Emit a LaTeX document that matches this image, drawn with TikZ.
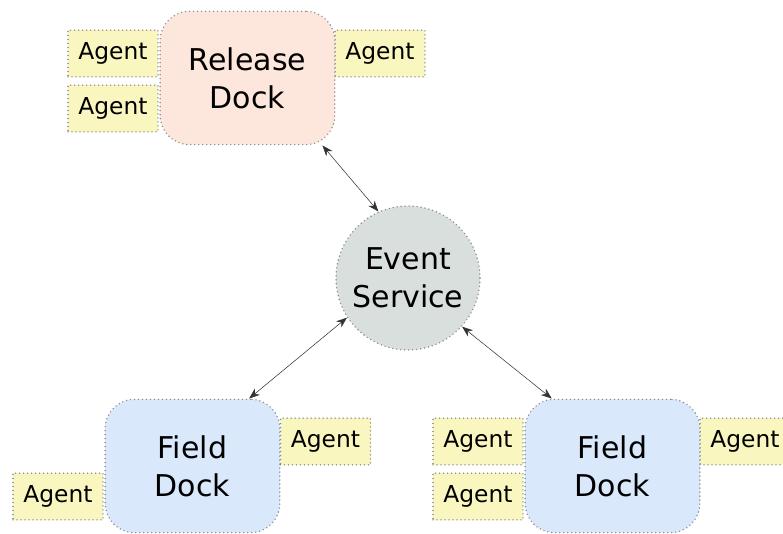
\documentclass[tikz,border=0pt]{standalone}
\usepackage{fontspec}
\setmainfont{DejaVu Sans}
\usepackage{tikz}
\usetikzlibrary{arrows.meta}

\definecolor{releasefill}{RGB}{253,230,219}
\definecolor{eventfill}{RGB}{216,223,221}
\definecolor{fieldfill}{RGB}{218,232,252}
\definecolor{agentfill}{RGB}{249,246,192}
\definecolor{rimgray}{RGB}{140,140,140}

\tikzset{
  rim/.style={draw=rimgray, line width=1.2pt, line cap=round, dash pattern=on 0pt off 3pt},
  dock/.style={rim, rectangle, rounded corners=22pt, minimum width=131pt, minimum height=100pt,
    align=center, font=\fontsize{22.5}{28.5}\selectfont},
  agent/.style={rim, rectangle, fill=agentfill, minimum width=67.5pt, minimum height=35pt,
    inner sep=0pt, font=\fontsize{17.5}{21}\selectfont},
  link/.style={{Stealth[length=8pt,width=6pt,inset=2.5pt]}-{Stealth[length=8pt,width=6pt,inset=2.5pt]},
    line width=0.4pt, draw=black!80}
}

\begin{document}
\begin{tikzpicture}[x=0.75pt,y=0.75pt,yscale=-1,xscale=1]
            \useasboundingbox (0,0) rectangle (783,534);

            % Agents
            \node [agent] (relagentA) at (113,53.5) {Agent};
            \node [agent] (relagentB) at (113,108.5) {Agent};
            \node [agent] (relagentC) at (380,53.5) {Agent};
            \node [agent] (fldagentA) at (325.5,441.5) {Agent};
            \node [agent] (fldagentB) at (58,496.5) {Agent};
            \node [agent] (fldagentC) at (478,441.5) {Agent};
            \node [agent] (fldagentD) at (478,496.5) {Agent};
            \node [agent] (fldagentE) at (745,441.5) {Agent};

            % Docks
            \node [dock, fill=releasefill] (release) at (247.5,78) {Release\\Dock};
            \node [dock, fill=fieldfill] (fieldleft) at (192.5,466) {Field\\Dock};
            \node [dock, fill=fieldfill] (fieldright) at (612.5,466) {Field\\Dock};

            % Event service
            \node [rim, circle, fill=eventfill, minimum size=108pt, align=center,
              font=\fontsize{22.5}{28.5}\selectfont] (event) at (408,278) {Event\\Service};

            % Links
            \draw [link] (release.-42) -- (event.114);
            \draw [link] (event.213) -- (fieldleft.50);
            \draw [link] (event.-42) -- (fieldright.132);
        \end{tikzpicture}
\end{document}
